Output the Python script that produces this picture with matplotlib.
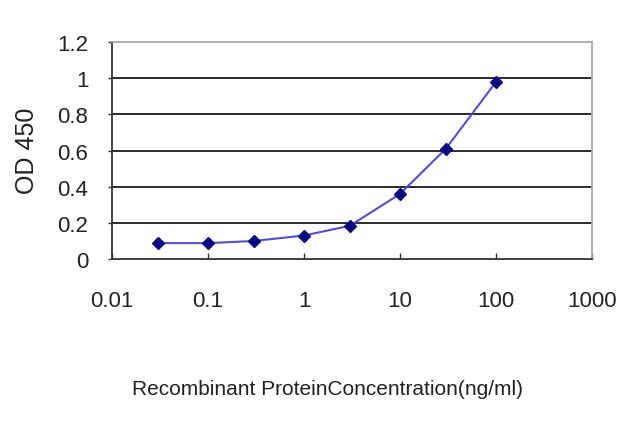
import matplotlib
matplotlib.use("Agg")
from matplotlib import pyplot as plt
from matplotlib.ticker import FixedLocator, FixedFormatter, NullLocator

# data
conc = [0.03, 0.1, 0.3, 1, 3, 10, 30, 100]
od450 = [0.088, 0.088, 0.10, 0.13, 0.184, 0.36, 0.61, 0.98]

x_ticks = [0.01, 0.1, 1, 10, 100, 1000]
x_labels = ['0.01', '0.1', '1', '10', '100', '1000']
y_ticks = [0, 0.2, 0.4, 0.6, 0.8, 1, 1.2]
y_labels = ['0', '0.2', '0.4', '0.6', '0.8', '1', '1.2']

plt.rcParams['font.family'] = ['Liberation Sans', 'DejaVu Sans']

fig = plt.figure(figsize=(6.4, 4.27), dpi=100)
ax = fig.add_axes([0.175, 0.391, 0.75, 0.508])

# horizontal grid lines
for yv in y_ticks[1:-1]:
    ax.axhline(yv, color='#1a1a1a', linewidth=1.3, zorder=1)

ax.plot(conc, od450, color='#5050cc', linewidth=1.5, zorder=2)
ax.plot(conc, od450, linestyle='none', marker='D', markersize=6.5,
        color='#0a0a80', zorder=3)

ax.set_xscale('log')
ax.set_xlim(0.01, 1000)
ax.set_ylim(0, 1.2)

ax.xaxis.set_major_locator(FixedLocator(x_ticks))
ax.xaxis.set_major_formatter(FixedFormatter(x_labels))
ax.xaxis.set_minor_locator(NullLocator())
ax.yaxis.set_major_locator(FixedLocator(y_ticks))
ax.yaxis.set_major_formatter(FixedFormatter(y_labels))

ax.tick_params(axis='x', direction='in', length=4, width=1, color='#333333',
               labelsize=16, pad=22, labelcolor='#222222')
ax.tick_params(axis='y', direction='out', length=3, width=1, color='#333333',
               labelsize=16, pad=14, labelcolor='#222222')

for s in ['left', 'bottom']:
    ax.spines[s].set_color('#333333')
    ax.spines[s].set_linewidth(1.3)
for s in ['top', 'right']:
    ax.spines[s].set_color('#a8a8a8')
    ax.spines[s].set_linewidth(1.3)

fig.text(0.042, 0.647, 'OD 450', rotation=90, ha='center', va='center',
         fontsize=18, color='#222222')
fig.text(0.512, 0.087, 'Recombinant ProteinConcentration(ng/ml)',
         ha='center', va='center', fontsize=15, color='#222222')

plt.savefig('out.png')
plt.close('all')
